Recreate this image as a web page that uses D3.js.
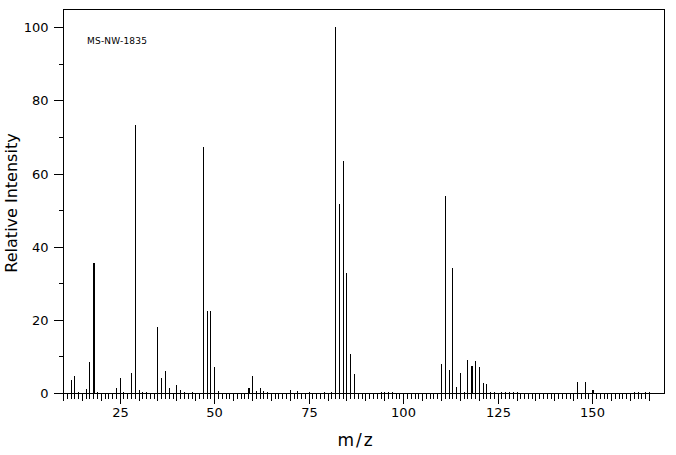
<!DOCTYPE html>
<html>
<head>
<meta charset="utf-8">
<script src="https://cdn.jsdelivr.net/npm/d3@7"></script>
<style>
  body { margin: 0; background: #fff; }
  svg { display: block; }
  text { font-family: "DejaVu Sans", sans-serif; fill: #000; }
</style>
</head>
<body>
<svg id="chart" width="676" height="455"></svg>
<script>
// m/z values and relative intensities
const mz = [12, 13, 14, 16, 17, 18, 19, 24, 25, 26, 28, 29, 30, 31, 32, 35, 36, 37, 38, 40,
  41, 42, 44, 47, 48, 49, 50, 51, 59, 60, 61, 62, 63, 64, 70, 72, 75, 79, 81, 82,
  83, 84, 85, 86, 87, 94, 95, 96, 97, 110, 111, 112, 113, 114, 115, 116, 117, 118, 119, 120,
  121, 122, 123, 124, 126, 127, 128, 129, 130, 146, 148, 150, 161, 162, 164, 165];
const intensity = [3.6, 4.7, 0.4, 1.1, 8.5, 35.6, 0.4, 1.4, 4.1, 0.3, 5.5, 73.4, 0.9, 0.4, 0.4, 18.1, 4.1, 6.1, 1.4, 2.2,
  0.8, 0.3, 0.4, 67.4, 22.5, 22.5, 7.1, 0.5, 1.5, 4.7, 0.6, 1.4, 0.6, 0.3, 0.9, 0.5, 0.3, 0.3, 0.3, 100,
  51.8, 63.5, 32.9, 10.7, 5.3, 0.4, 0.4, 0.4, 0.4, 8.0, 54.0, 6.3, 34.3, 1.6, 5.5, 0.3, 9.0, 7.4, 8.8, 7.1,
  2.7, 2.5, 0.3, 0.3, 0.3, 0.4, 0.4, 0.4, 0.3, 3.1, 3.1, 0.9, 0.4, 0.4, 0.4, 0.4];
const xTicks = d3.range(10, 166);
const xLabels = [25, 50, 75, 100, 125, 150];
const yTicks = d3.range(0, 101, 10);
const yLabels = [0, 20, 40, 60, 80, 100];
const sampleId = "MS-NW-1835";

const svg = d3.select("#chart");
const margin = { left: 63, right: 664, top: 9, bottom: 393 };

const x = d3.scaleLinear().domain([10, 169]).range([margin.left, margin.right]);
const y = d3.scaleLinear().domain([0, 105]).range([margin.bottom, margin.top]);
const px = v => Math.round(x(v)) + 0.5;

// peaks
const wide = new Set([18, 59, 118, 150]);
svg.append("g")
  .selectAll("line")
  .data(d3.range(mz.length))
  .join("line")
  .attr("x1", i => wide.has(mz[i]) ? Math.round(x(mz[i])) + 1 : px(mz[i]))
  .attr("x2", i => wide.has(mz[i]) ? Math.round(x(mz[i])) + 1 : px(mz[i]))
  .attr("y1", margin.bottom)
  .attr("y2", i => y(intensity[i]))
  .attr("stroke", "#000")
  .attr("stroke-width", i => wide.has(mz[i]) ? 2 : 1)
  .attr("shape-rendering", "crispEdges");

// x axis
const gx = svg.append("g")
  .attr("transform", `translate(0,${margin.bottom + 0.5})`)
  .call(d3.axisBottom(x).tickValues(xTicks).tickSize(5)
    .tickFormat(d => xLabels.includes(d) ? d : ""));
gx.select(".domain").remove();
gx.selectAll(".tick").attr("transform", d => `translate(${px(d)},0)`);
gx.selectAll(".tick line")
  .attr("y2", d => d % 25 === 0 ? 10 : d % 5 === 0 ? 7 : 5)
  .attr("shape-rendering", "crispEdges");
gx.selectAll(".tick text")
  .attr("y", 14)
  .attr("font-family", "DejaVu Sans")
  .attr("font-size", 13);

// y axis
const gy = svg.append("g")
  .attr("transform", `translate(${margin.left + 0.5},0)`)
  .call(d3.axisLeft(y).tickValues(yTicks).tickSize(10)
    .tickFormat(d => yLabels.includes(d) ? d : ""));
gy.select(".domain").remove();
gy.selectAll(".tick").attr("transform", d => `translate(0,${Math.round(y(d)) + 0.5})`);
gy.selectAll(".tick line")
  .attr("x2", d => d % 20 === 0 ? -10 : -5)
  .attr("shape-rendering", "crispEdges");
gy.selectAll(".tick text")
  .attr("x", -15)
  .attr("font-family", "DejaVu Sans")
  .attr("font-size", 13);

// frame
svg.append("rect")
  .attr("x", margin.left + 0.5).attr("y", margin.top + 0.5)
  .attr("width", margin.right - margin.left).attr("height", margin.bottom - margin.top)
  .attr("fill", "none").attr("stroke", "#000")
  .attr("shape-rendering", "crispEdges");

// labels
svg.append("text")
  .attr("x", 356)
  .attr("y", 446)
  .attr("text-anchor", "middle")
  .attr("font-size", 17)
  .attr("letter-spacing", 2)
  .text("m/z");

svg.append("text")
  .attr("transform", `translate(17,${(margin.top + margin.bottom) / 2 + 2}) rotate(-90)`)
  .attr("text-anchor", "middle")
  .attr("font-size", 16)
  .text("Relative Intensity");

svg.append("text")
  .attr("x", 87)
  .attr("y", 44)
  .attr("font-family", "DejaVu Sans Mono")
  .attr("font-size", 9)
  .attr("letter-spacing", 0.2)
  .text(sampleId);
</script>
</body>
</html>
